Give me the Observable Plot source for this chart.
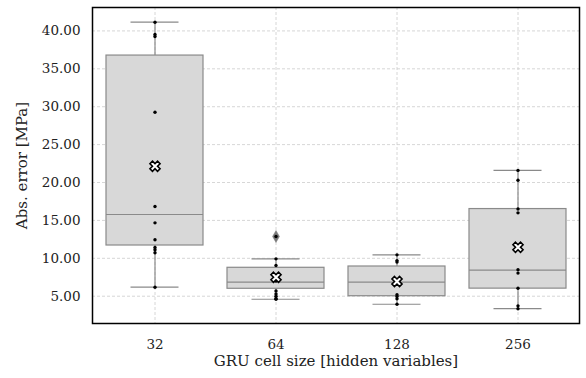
<!DOCTYPE html>
<html>
<head>
<meta charset="utf-8">
<script src="https://cdn.jsdelivr.net/npm/d3@7"></script>
<script src="https://cdn.jsdelivr.net/npm/@observablehq/plot@0.6"></script>
<style>
  html, body { margin: 0; padding: 0; background: white; }
</style>
</head>
<body>
<div id="chart"></div>
<script>
const categories = ["32", "64", "128", "256"];
const whiskerLow  = [6.19, 4.6, 3.94, 3.35];
const quartile1   = [11.69, 5.98, 5.0, 6.0];
const medians     = [15.78, 6.85, 6.85, 8.45];
const quartile3   = [36.75, 8.75, 8.92, 16.5];
const whiskerHigh = [41.15, 9.93, 10.46, 21.6];
const means       = [22.15, 7.5, 6.94, 11.46];
const outlierCat  = ["64"];
const outlierVal  = [12.88];
const points32  = [41.15, 39.53, 39.26, 29.27, 16.83, 14.68, 12.44, 11.42, 11.12, 10.73, 6.19];
const points64  = [12.88, 9.93, 9.05, 7.6, 7.25, 7.0, 5.7, 5.3, 5.0, 4.7, 4.6];
const points128 = [10.46, 9.7, 9.5, 7.05, 6.75, 5.2, 4.95, 4.65, 3.94];
const points256 = [21.6, 20.3, 16.5, 16.0, 8.5, 8.05, 6.06, 3.73, 3.35];
const yTicks = [5, 10, 15, 20, 25, 30, 35, 40];

const stats = categories.map((c, i) => ({
  cat: c, lo: whiskerLow[i], q1: quartile1[i], med: medians[i],
  q3: quartile3[i], hi: whiskerHigh[i], mean: means[i]
}));
const pts = [points32, points64, points128, points256]
  .flatMap((arr, i) => arr.map(v => ({cat: categories[i], v})));
const outliers = outlierCat.map((c, i) => ({cat: c, v: outlierVal[i]}));

const edge = "#8a8a8a";
const gridColor = "#cccccc";
const font = "DejaVu Serif";

const chart = Plot.plot({
  width: 586,
  height: 378,
  marginLeft: 92,
  marginRight: 7,
  marginTop: 7,
  marginBottom: 55,
  style: {fontFamily: font, fontSize: "13.5px", background: "white", color: "#222"},
  x: {domain: categories, paddingInner: 0.2, paddingOuter: 0.1, label: null},
  y: {domain: [1.4, 43.09], label: null},
  marks: [
    Plot.gridY(yTicks, {stroke: gridColor, strokeOpacity: 1, strokeDasharray: "3,2", strokeWidth: 0.8}),
    Plot.gridX(categories, {stroke: gridColor, strokeOpacity: 1, strokeDasharray: "3,2", strokeWidth: 0.8}),
    Plot.axisY(yTicks, {tickSize: 0, tickPadding: 12, tickFormat: d3.format(".2f"), label: null, fontSize: 13.5, fill: "#222"}),
    Plot.axisX({tickSize: 0, tickPadding: 16, label: null, fontSize: 13.5, fill: "#222"}),
    Plot.ruleX(stats, {x: "cat", y1: "q3", y2: "hi", stroke: edge, strokeWidth: 1.2}),
    Plot.ruleX(stats, {x: "cat", y1: "lo", y2: "q1", stroke: edge, strokeWidth: 1.2}),
    Plot.barY(stats, {x: "cat", y1: "q1", y2: "q3", fill: "#d8d8d8", stroke: edge, strokeWidth: 1.2}),
    Plot.tickY(stats, {x: "cat", y: "med", stroke: edge, strokeWidth: 1.2}),
    Plot.tickY(stats, {x: "cat", y: "hi", stroke: edge, strokeWidth: 1.2, insetLeft: 24.5, insetRight: 24.5}),
    Plot.tickY(stats, {x: "cat", y: "lo", stroke: edge, strokeWidth: 1.2, insetLeft: 24.5, insetRight: 24.5}),
    Plot.dot(outliers, {x: "cat", y: "v", symbol: "diamond", r: 3.6, fill: "#7a7a7a", stroke: "#7a7a7a", strokeWidth: 0.5}),
    Plot.dot(pts, {x: "cat", y: "v", r: 1.7, fill: "black", stroke: "none"}),
    Plot.dot(stats, {x: "cat", y: "mean", symbol: "cross", rotate: 45, r: 4.5, fill: "white", stroke: "black", strokeWidth: 1.6}),
    Plot.frame({stroke: "black", strokeWidth: 1.5}),
    Plot.text(["Abs. error [MPa]"], {frameAnchor: "left", textAnchor: "middle", dx: -70, rotate: -90, fontSize: 15, fill: "#222"}),
    Plot.text(["GRU cell size [hidden variables]"], {frameAnchor: "bottom", textAnchor: "middle", dy: 42, fontSize: 15, fill: "#222"})
  ]
});
document.getElementById("chart").appendChild(chart);
</script>
</body>
</html>
